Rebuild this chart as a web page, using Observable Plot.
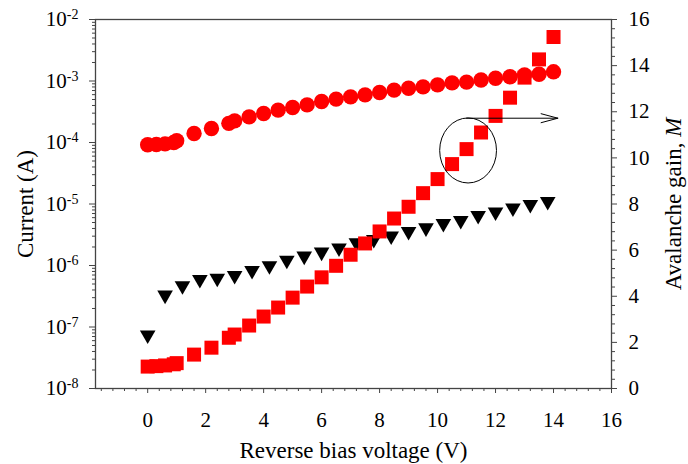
<!DOCTYPE html>
<html>
<head>
<meta charset="utf-8">
<script src="https://cdn.jsdelivr.net/npm/d3@7"></script>
<script src="https://cdn.jsdelivr.net/npm/@observablehq/plot@0.6"></script>
<style>
  html, body { margin: 0; padding: 0; background: white; }
  #chart { position: relative; width: 688px; height: 464px; }
  #chart svg { position: absolute; left: 0; top: 0; }
  #chart svg text { font-family: 'Liberation Serif', 'Times New Roman', serif; }
</style>
</head>
<body>
<div id="chart"></div>
<script>
// ---- data ----
const voltage = [0, 0.3, 0.6, 0.9, 1.0, 1.6, 2.2, 2.8, 3.0, 3.5, 4.0, 4.5, 5.0, 5.5, 6.0, 6.5, 7.0, 7.5,
  8.0, 8.5, 9.0, 9.5, 10.0, 10.5, 11.0, 11.5, 12.0, 12.5, 13.0, 13.5, 14.0];
const photoCurrent = [9.2e-5, 9.3e-5, 9.5e-5, 1.0e-4, 1.07e-4, 1.4e-4, 1.69e-4, 2.05e-4, 2.25e-4, 2.61e-4,
  2.96e-4, 3.36e-4, 3.70e-4, 4.09e-4, 4.63e-4, 5.07e-4, 5.52e-4, 5.95e-4, 6.49e-4, 7.10e-4, 7.64e-4,
  8.02e-4, 8.65e-4, 9.31e-4, 9.57e-4, 1.04e-3, 1.11e-3, 1.17e-3, 1.26e-3, 1.29e-3, 1.41e-3];
const gainM = [0.95, 0.97, 1.0, 1.05, 1.1, 1.47, 1.77, 2.2, 2.34, 2.73, 3.12, 3.51, 3.94, 4.42, 4.82, 5.32,
  5.80, 6.29, 6.81, 7.37, 7.88, 8.47, 9.08, 9.73, 10.38, 11.1, 11.82, 12.61, 13.48, 14.27, 15.24];
const darkVoltage = [0, 0.6, 1.2, 1.8, 2.4, 3.0, 3.6, 4.2, 4.8, 5.4, 6.0, 6.6, 7.2, 7.8, 8.4, 9.0, 9.6,
  10.2, 10.8, 11.4, 12.0, 12.6, 13.2, 13.8];
const darkCurrent = [7.4e-8, 3.3e-7, 4.7e-7, 5.9e-7, 6.2e-7, 6.9e-7, 8.3e-7, 9.9e-7, 1.22e-6, 1.42e-6,
  1.65e-6, 1.93e-6, 2.35e-6, 2.64e-6, 3.03e-6, 3.56e-6, 4.09e-6, 4.8e-6, 5.4e-6, 6.5e-6, 7.4e-6, 8.6e-6,
  9.8e-6, 1.1e-5];

// ticks
const xTicks = [0, 2, 4, 6, 8, 10, 12, 14, 16];
const yLeftTicks = [1e-8, 1e-7, 1e-6, 1e-5, 1e-4, 1e-3, 1e-2];
const yRightTicks = [0, 2, 4, 6, 8, 10, 12, 14, 16];

// labels
const xLabel = "Reverse bias voltage (V)";
const yLeftLabel = "Current (A)";
const yRightLabel = "Avalanche gain, M";

// annotation (data coords: x in V, y in M)
const ringCenter = [11.07, 10.3];
const ringRadius = [0.98, 1.41];
const arrowFrom = [11.0, 11.72];
const arrowTo = [14.15, 11.72];

// ---- build ----
const photo = voltage.map((v, i) => ({v, I: photoCurrent[i]}));
const gain = voltage.map((v, i) => ({v, M: gainM[i]}));
const dark = darkVoltage.map((v, i) => ({v, I: darkCurrent[i]}));

const xMinor = d3.range(-16, 161, 4).map(d => d / 10).filter(d => !xTicks.includes(d));
const yLeftMinor = [];
for (let e = -8; e < -2; e++) for (let k = 2; k <= 9; k++) yLeftMinor.push(k * Math.pow(10, e));
const yRightMinor = d3.range(0, 161, 4).map(d => d / 10).filter(d => !yRightTicks.includes(d));

const W = 688, H = 464;
const common = {
  width: W, height: H, marginTop: 19, marginBottom: 76, marginLeft: 95, marginRight: 77,
  x: {domain: [-1.8, 16], axis: null}
};
const FONT = "'Liberation Serif', 'Times New Roman', serif";
const AX = "#444";
const TF = {fontFamily: FONT, fontSize: 21};

const plot1 = Plot.plot({
  ...common,
  style: {fontFamily: FONT, fontSize: "21px", color: "#000", background: "white"},
  y: {type: "log", domain: [1e-8, 1e-2], axis: null},
  marks: [
    Plot.frame({stroke: AX, strokeWidth: 1.3}),
    Plot.axisX({...TF, ticks: xTicks, tickSize: 5, tickPadding: 19, tickFormat: d => String(d), label: null, stroke: AX}),
    Plot.axisX({ticks: xMinor, tickSize: 3, tickFormat: () => "", label: null, stroke: AX}),
    Plot.axisY({...TF, ticks: yLeftTicks, tickSize: 6, tickPadding: 11, label: null, stroke: AX,
      tickFormat: d => "10^" + Math.round(Math.log10(d))}),
    Plot.axisY({ticks: yLeftMinor, tickSize: 3, tickFormat: () => "", label: null, stroke: AX}),
    Plot.dot(photo, {x: "v", y: "I", r: 7.7, fill: "#ff0000", symbol: "circle"}),
    Plot.dot(dark, {x: "v", y: "I", r: 5.8, fill: "#000", symbol: "triangle", rotate: 180}),
    Plot.text([xLabel], {text: d => d, frameAnchor: "bottom", textAnchor: "middle", lineAnchor: "middle",
      dy: 62, fontSize: 23, fontFamily: FONT, fill: "#000"}),
    Plot.text([yLeftLabel], {text: d => d, frameAnchor: "left", textAnchor: "middle", lineAnchor: "middle",
      dx: -70, rotate: -90, fontSize: 23, fontFamily: FONT, fill: "#000"})
  ]
});

const plot2 = Plot.plot({
  ...common,
  style: {fontFamily: FONT, fontSize: "21px", color: "#000", background: "transparent"},
  y: {domain: [0, 16], axis: null},
  marks: [
    Plot.axisY({...TF, anchor: "right", ticks: yRightTicks, tickSize: 5, tickPadding: 12, tickFormat: d => String(d), label: null, stroke: AX}),
    Plot.axisY({anchor: "right", ticks: yRightMinor, tickSize: 3, tickFormat: () => "", label: null, stroke: AX}),
    Plot.dot(gain, {x: "v", y: "M", r: 7.9, fill: "#ff0000", symbol: "square"}),
    (index, scales) => {
      const ns = "http://www.w3.org/2000/svg";
      const el = document.createElementNS(ns, "ellipse");
      const cx = scales.x(ringCenter[0]), cy = scales.y(ringCenter[1]);
      el.setAttribute("cx", cx);
      el.setAttribute("cy", cy);
      el.setAttribute("rx", Math.abs(scales.x(ringCenter[0] + ringRadius[0]) - cx));
      el.setAttribute("ry", Math.abs(scales.y(ringCenter[1] + ringRadius[1]) - cy));
      el.setAttribute("fill", "none");
      el.setAttribute("stroke", "#000");
      el.setAttribute("stroke-width", "1");
      return el;
    },
    Plot.arrow([{x1: arrowFrom[0], y1: arrowFrom[1], x2: arrowTo[0], y2: arrowTo[1]}],
      {x1: "x1", y1: "y1", x2: "x2", y2: "y2", stroke: "#000", strokeWidth: 1, headLength: 26, headAngle: 30}),
    Plot.text([yRightLabel], {text: d => d, frameAnchor: "right", textAnchor: "middle", lineAnchor: "middle",
      dx: 62, rotate: -90, fontSize: 23, fontFamily: FONT, fill: "#000"})
  ]
});

// superscript exponents on left axis
plot1.querySelectorAll("text").forEach(t => {
  const s = t.textContent;
  if (/^10\^-?\d+$/.test(s)) {
    const exp = s.split("^")[1];
    t.textContent = "10";
    const sup = document.createElementNS("http://www.w3.org/2000/svg", "tspan");
    sup.setAttribute("dy", "-7");
    sup.setAttribute("font-size", "14");
    sup.textContent = exp;
    t.appendChild(sup);
  }
});
// italic M in right label
plot2.querySelectorAll("text").forEach(t => {
  if (t.textContent === yRightLabel) {
    t.textContent = "Avalanche gain, ";
    const it = document.createElementNS("http://www.w3.org/2000/svg", "tspan");
    it.setAttribute("font-style", "italic");
    it.textContent = "M";
    t.appendChild(it);
  }
});

document.getElementById("chart").append(plot1, plot2);
</script>
</body>
</html>
